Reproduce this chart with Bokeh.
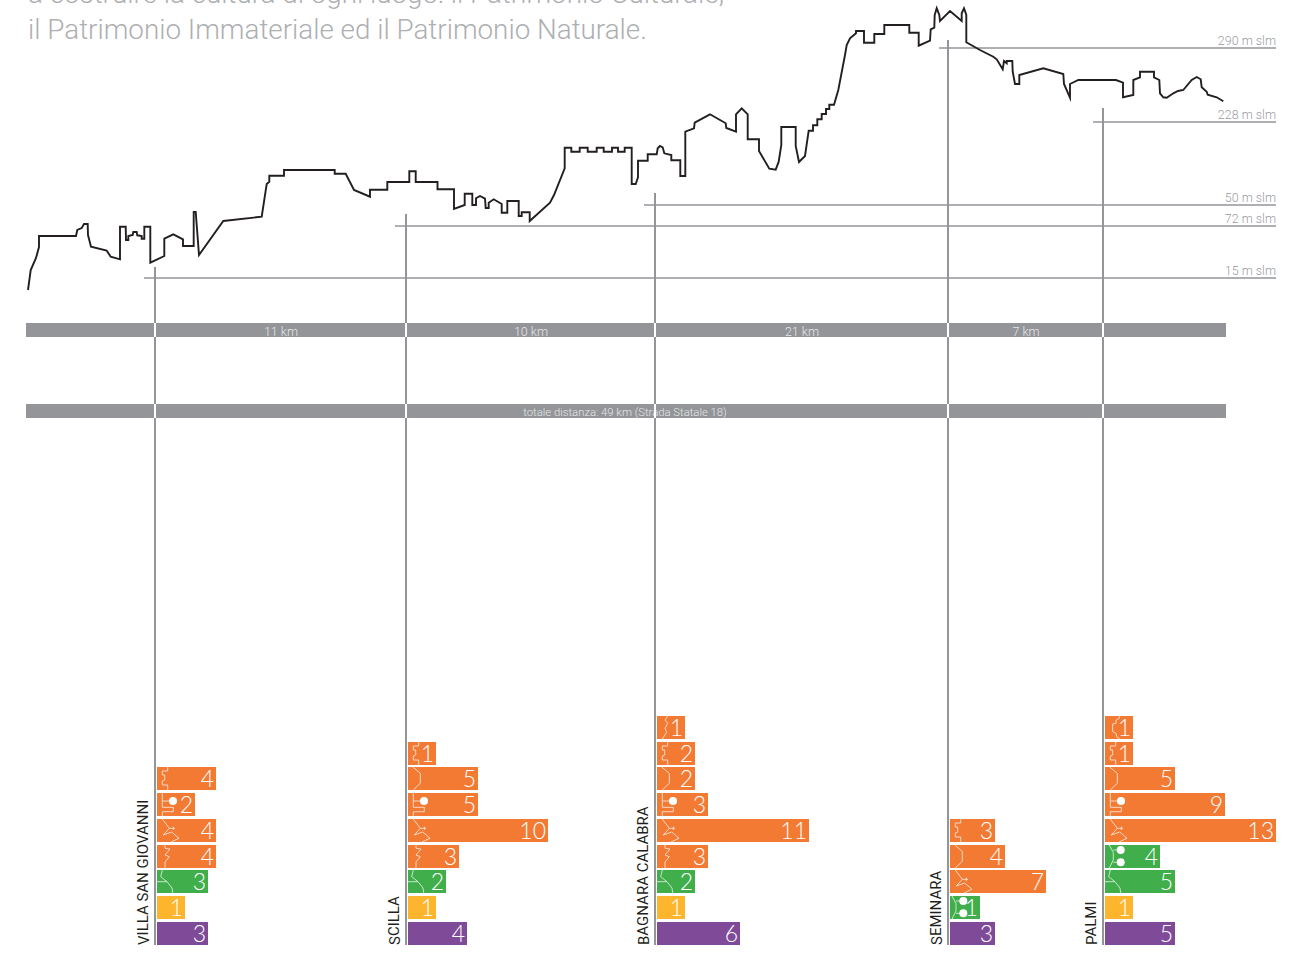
from bokeh.plotting import figure
from bokeh.models import Range1d, ColumnDataSource
from bokeh.core.properties import value
from bokeh.embed import file_html
from bokeh.resources import INLINE

heading_lines = ["a costruire la cultura di ogni luogo: il Patrimonio Culturale,",
                 "il Patrimonio Immateriale ed il Patrimonio Naturale."]

profile_x = [28,30.7,36,39,39,76,77.3,81.7,84,87.7,88,91,106.7,110.7,120,120,125.7,126,128.3,128.3,132.7,133.3,136.7,137.3,141.7,141.7,144.3,144.3,150.3,150.3,164.3,164.3,173.3,183,183,193.7,193.7,195.7,199,223.3,261.7,266.7,269.3,269.3,284,284,334.7,334.7,345.7,354,370,370,387.3,387.3,409.3,409.3,415.7,415.7,437.5,437.5,454,454,464.7,464.7,472.3,472.3,476,476,480,485,485.7,488.7,488.7,493.7,501.7,501.7,507.3,507.3,518.7,518.7,521.7,521.7,529.7,529.7,550,554,564.7,564.7,571.3,571.3,579.7,579.7,587.7,587.7,596.7,596.7,603.7,603.7,612,612,618,618,624.7,624.7,631.7,631.7,635.7,638,638,647.7,647.7,656.7,657.7,660,662.7,664.3,671.3,671.3,680.3,680.3,685.3,685.3,694,694.7,710,725.7,726.3,736,736,741.7,747.7,747.7,759,759,769.3,775.7,778.7,781.3,781.3,795.7,795.7,799,805,808.7,813,813,817.3,817.3,821.7,821.7,826,826,829.3,829.3,834,838.3,845,846.7,850,856,856,864,864,874.3,874.3,884.3,884.3,909.3,909.3,918.7,918.7,930,930.7,934.3,934.7,936.7,939.3,940,950,961.7,961.7,964,966.3,966.3,980,993.3,996.7,1002.7,1004,1006.7,1006.7,1012.3,1012.7,1015,1019.3,1019.3,1043.3,1063.3,1064,1070,1070,1078.3,1116,1123,1123,1133.3,1133.3,1140,1140,1154,1154,1159.3,1160,1163.3,1166.7,1173.3,1178,1183.3,1191.7,1196.7,1200.7,1201.7,1206.7,1207.7,1216.7,1223.3]
profile_y = [290,270,258,247,236,236,230,228,224,224,235,246.7,250.7,256.7,259.3,226.7,226.7,240,240,236,235,232,232,235.3,236,238.7,238.7,226.7,226.7,262.7,256,238.7,234.3,239.3,246,246,212,212,255,221,216.7,184,181.7,175.7,175.7,170,170,173.7,173.7,190,196.7,189.7,189.7,182,182,171.3,171.3,182,182,189.3,189.3,209,205,193.7,193.7,205,205,198.3,196,198.7,208,208,202.7,199.3,204,212.7,212.7,201,201,216,216,212.3,212.3,221,202.7,195,168.3,147.7,147.7,151.7,151.7,147.7,147.7,151.7,151.7,147.7,147.7,151.7,151.7,147.7,147.7,151.7,151.7,147.7,147.7,184,184,177.3,160.7,160.7,154.3,154.3,148.3,146,147.3,153.3,155,160.3,160.3,176,176,131.7,128.3,122.7,114.3,123.3,128,131.7,114.3,108.3,114.3,139.3,139.3,151,168.7,169.7,161.7,145,127,127,146,162,156,130.7,130.7,125.3,125.3,119.3,119.3,114,114,109,109,104.7,104.7,90,55,45,38.3,33.3,31,31,42.7,42.7,34,34,25,25,32.7,32.7,45.7,40.7,29.3,27.7,15,8.3,15,21,11,21,13.3,8.3,15,42.3,50,56.7,59.3,69.3,61,63.3,61,61,71.7,84,84,75,68.3,74,84,97.7,84,80,80,82.7,97.3,95,80,77.3,71.7,71.7,77.3,80,93.3,97.3,97.7,93.3,91,90,80,77,79.3,87.3,91.7,94.7,97.3,101.3]

elev_labels = ["15 m slm", "72 m slm", "50 m slm", "228 m slm", "290 m slm"]
elev_y      = [278, 226, 205, 122, 48]
elev_start  = [144, 395, 644, 1093, 939]
town_line_x   = [155, 406, 655, 948, 1103]
town_line_top = [267, 214, 193, 40, 108]
band_rows = [(323, 337), (404, 418)]
segment_labels = ["11 km", "10 km", "21 km", "7 km"]
segment_x = [281, 531, 802, 1026]
total_label = "totale distanza: 49 km (Strada Statale 18)"

towns = ["VILLA SAN GIOVANNI", "SCILLA", "BAGNARA CALABRA", "SEMINARA", "PALMI"]
bar_x0 = [157, 408, 657, 950, 1105]
row_y = [727.5, 753.5, 778.5, 804.5, 830.5, 856.5, 881.5, 907.5, 933.5]

villa_rows = [2, 3, 4, 5, 6, 7, 8]
villa_vals = [4, 2, 4, 4, 3, 1, 3]
villa_lens = [59, 38, 59, 59, 51, 28, 51]
villa_kind = ["a", "c", "d", "e", "f", "y", "p"]

scilla_rows = [1, 2, 3, 4, 5, 6, 7, 8]
scilla_vals = [1, 5, 5, 10, 3, 2, 1, 4]
scilla_lens = [28, 70, 70, 140, 51, 38, 28, 59]
scilla_kind = ["a", "b", "c", "d", "e", "f", "y", "p"]

bagnara_rows = [0, 1, 2, 3, 4, 5, 6, 7, 8]
bagnara_vals = [1, 2, 2, 3, 11, 3, 2, 1, 6]
bagnara_lens = [28, 38, 38, 51, 152, 51, 38, 28, 83]
bagnara_kind = ["g", "a", "b", "c", "d", "e", "f", "y", "p"]

seminara_rows = [4, 5, 6, 7, 8]
seminara_vals = [3, 4, 7, 1, 3]
seminara_lens = [45, 55, 96, 30, 45]
seminara_kind = ["a", "b", "d", "j", "p"]

palmi_rows = [0, 1, 2, 3, 4, 5, 6, 7, 8]
palmi_vals = [1, 1, 5, 9, 13, 4, 5, 1, 5]
palmi_lens = [28, 28, 70, 120, 171, 55, 70, 28, 70]
palmi_kind = ["h", "a", "b", "c", "d", "i", "f", "y", "p"]

ORANGE, GREEN, YELLOW, PURPLE = "#f37a33", "#40ae4b", "#fdb52d", "#7f4b99"
GREY, LABEL = "#939598", "#9a9c9f"
kind_color = {"a": ORANGE, "b": ORANGE, "c": ORANGE, "d": ORANGE, "e": ORANGE, "g": ORANGE, "h": ORANGE,
              "f": GREEN, "i": GREEN, "j": GREEN, "y": YELLOW, "p": PURPLE}

# small pictograms inside the bars: outline strokes and dots, relative to a bar's top-left corner
icon_lines = {
    "a": [[(10.7,0),(10.7,4),(5.3,4),(5.3,8),(7.7,8),(7.7,13),(5.3,14),(5.3,18),(10.7,18),(10.7,23)]],
    "b": [[(4.7,0),(12.3,6.3),(12.3,16.3),(5.3,23)]],
    "c": [[(5.3,0),(5.3,14.3),(16.3,14.3),(16.3,18.7),(5.3,18.7),(5.3,23)], [(5.3,8),(13,8)]],
    "d": [[(5.3,0),(12.3,9.3),(6.3,16),(14.7,13),(22,19.3),(14,23)], [(12.3,9.3),(18,9.3)], [(16.3,7.7),(16.3,11)]],
    "e": [[(8,0),(8,3.3),(13,4),(8,10),(12.3,11.7),(8,17),(8,23)]],
    "f": [[(5.3,0),(3.7,6.7),(10,11.7),(15,18),(15.7,23)], [(0,11.7),(10,11.7)]],
    "g": [[(10.7,0),(8,4),(10.7,7.3),(8,12.3),(9.7,16.3),(5.3,23)]],
    "h": [[(14.3,0),(14.3,2.3),(11,4),(11,7.3),(7.7,8),(7.7,15.7),(11,17.3),(11.7,20.7),(15,23)]],
    "i": [[(4.3,0),(8.3,7.7),(8.3,15),(4.3,23)], [(8.3,5),(15.7,5)], [(8.3,17.3),(15.7,17.3)]],
    "j": [[(2,0),(6,7.7),(6,15),(2,23)], [(6,5),(13.3,5)], [(6,17.3),(13.3,17.3)]],
}
icon_dots = {"c": [(16,8)], "i": [(15.7,5),(15.7,17.3)], "j": [(13.3,5),(13.3,17.3)]}

p = figure(width=1313, height=960, output_backend="svg", toolbar_location=None,
           x_range=Range1d(-7.5, 1305.5), y_range=Range1d(952.5, -7.5), min_border=0,
           outline_line_color=None, background_fill_color="white", border_fill_color="white",
           styles={"margin-left": "-8px", "margin-top": "-8px"})
p.axis.visible = False
p.grid.visible = False

THIN = value("Roboto Light")
TOWN = value("Roboto")
DIGIT = value("Lato Light")

# heading
p.text(x=[28, 28], y=[-6.5, 29], text=heading_lines, text_font=THIN, text_font_size="27.8px",
       text_color="#adafb2", text_baseline="middle", text_align="left")

# distance bands
for top, bottom in band_rows:
    p.quad(left=[26], right=[1226], top=[top], bottom=[bottom], fill_color=GREY, line_color=None)

# elevation reference lines
p.segment(x0=elev_start, x1=[1276] * len(elev_y), y0=elev_y, y1=elev_y, line_color=GREY, line_width=1.6)
p.text(x=[1276] * len(elev_y), y=[v - 8 for v in elev_y], text=elev_labels, text_font=THIN,
       text_font_size="12.5px", text_color=LABEL, text_align="right", text_baseline="middle")

# town lines, white where they cross the bands
p.segment(x0=town_line_x, x1=town_line_x, y0=town_line_top, y1=[945] * 5, line_color=GREY, line_width=2)
p.text(x=segment_x, y=[331] * 4, text=segment_labels, text_font=THIN, text_font_size="12.5px",
       text_color="#e6e7e8", text_align="center", text_baseline="middle")
p.text(x=[625], y=[412], text=[total_label], text_font=THIN, text_font_size="11.3px",
       text_color="#e6e7e8", text_align="center", text_baseline="middle")
for top, bottom in band_rows:
    p.segment(x0=town_line_x, x1=town_line_x, y0=[top] * 5, y1=[bottom] * 5, line_color="white", line_width=2)

# elevation profile
p.line(profile_x, profile_y, line_color="#231f20", line_width=1.9, line_join="miter")

# bars per town
tables = [(villa_rows, villa_vals, villa_lens, villa_kind),
          (scilla_rows, scilla_vals, scilla_lens, scilla_kind),
          (bagnara_rows, bagnara_vals, bagnara_lens, bagnara_kind),
          (seminara_rows, seminara_vals, seminara_lens, seminara_kind),
          (palmi_rows, palmi_vals, palmi_lens, palmi_kind)]

for x0, (rows, vals, lens, kinds) in zip(bar_x0, tables):
    ys = [row_y[r] for r in rows]
    src = ColumnDataSource(dict(y=ys, left=[x0] * len(ys), right=[x0 + l for l in lens],
                                color=[kind_color[k] for k in kinds],
                                label=[str(v) for v in vals],
                                tx=[x0 + l - 2 for l in lens]))
    p.hbar(y="y", left="left", right="right", height=23, fill_color="color", line_color=None, source=src)
    for y, k in zip(ys, kinds):
        for stroke in icon_lines.get(k, []):
            p.line([x0 + a for a, _ in stroke], [y - 11.5 + b for _, b in stroke],
                   line_color="white", line_alpha=0.7, line_width=1)
        dots = icon_dots.get(k, [])
        if dots:
            p.scatter([x0 + a for a, _ in dots], [y - 11.5 + b for _, b in dots], size=8,
                      fill_color="white", line_color=None)
    p.text(x="tx", y="y", text="label", text_font=DIGIT, text_font_size="23px", text_color="white",
           text_align="right", text_baseline="middle", source=src)

# town names
p.text(x=[v - 11.5 for v in town_line_x], y=[945] * 5, text=towns, angle=1.5708, text_font=TOWN,
       text_font_size="15px", text_color="#231f20", text_align="left", text_baseline="middle")

open("out.html", "w").write(file_html(p, INLINE))
